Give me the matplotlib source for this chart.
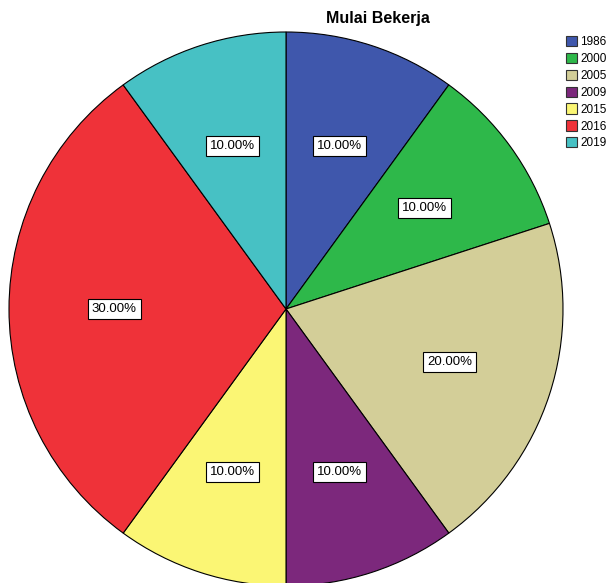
import matplotlib
matplotlib.use('Agg')
import matplotlib.pyplot as plt
from matplotlib.patches import Patch

plt.rcParams['font.family'] = ['Liberation Sans', 'DejaVu Sans']

# data
tahun = ['1986', '2000', '2005', '2009', '2015', '2016', '2019']
persen = [10, 10, 20, 10, 10, 30, 10]
warna = ['#3f57ac', '#2eb84a', '#d3ce98', '#7c287c', '#fbf674', '#ef3239', '#47c1c4']

fig = plt.figure(figsize=(6.12, 5.83), dpi=100)
ax = fig.add_axes([9 / 612, -3 / 583, 554 / 612, 554 / 583])

wedges, texts, autotexts = ax.pie(
    persen, colors=warna, startangle=90, counterclock=False,
    autopct='%.2f%%', pctdistance=0.62, radius=1,
    wedgeprops=dict(edgecolor='black', linewidth=0.8))
for t in autotexts:
    t.set_fontsize(9.5)
    t.set_bbox(dict(facecolor='white', edgecolor='black', linewidth=0.8, pad=0.3, boxstyle='square'))
ax.set_xlim(-1, 1)
ax.set_ylim(-1, 1)
ax.set_aspect('equal')

fig.text(378 / 612, 1 - 18 / 583, 'Mulai Bekerja', ha='center', va='center',
         fontsize=11.5, fontweight='bold')

handles = [Patch(facecolor=c, edgecolor='#333333', linewidth=0.8) for c in warna]
fig.legend(handles, tahun, loc='upper left', bbox_to_anchor=(566 / 612, 1 - 36 / 583),
           frameon=False, fontsize=8.5, handlelength=0.95, handleheight=0.95,
           handletextpad=0.25, labelspacing=0.4, borderaxespad=0, borderpad=0)

fig.savefig('out.png', dpi=100)
